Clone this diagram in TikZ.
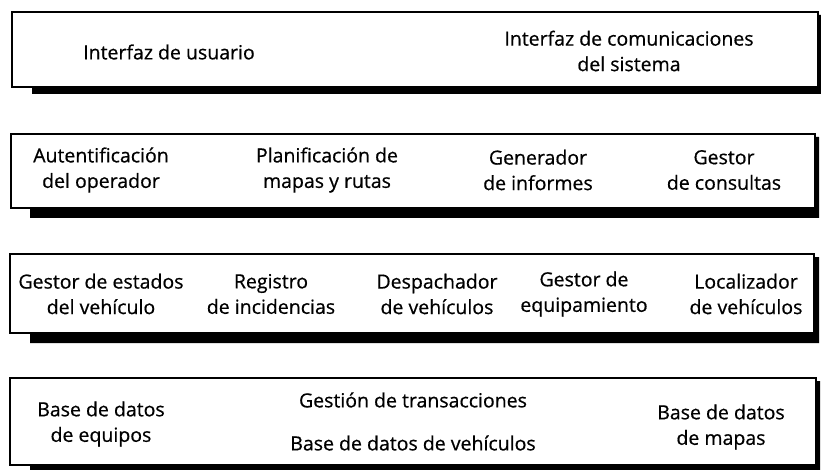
\documentclass[tikz,border=0pt]{standalone}
\usepackage{fontspec}
\setmainfont{Open Sans}[FakeBold=0.6]
\begin{document}
\begin{tikzpicture}[x=1pt,y=-1pt,
  lbl/.style={align=center, inner sep=0pt, font=\fontsize{19.5}{25.5}\selectfont},
  boxline/.style={draw=black, line width=1.4pt, fill=white},
  shad/.style={fill=black}]
\useasboundingbox (0,0) rectangle (821,470);
% Box 1
\fill[shad] (32,86) -- (32,94) -- (821,94) -- (821,15) -- (818,15) -- cycle;
\draw[boxline] (12,12) rectangle (818,87);
% Box 2
\fill[shad] (30,207) -- (30,218) -- (819,218) -- (819,137) -- (815,137) -- cycle;
\draw[boxline] (11,134) rectangle (815,208);
% Box 3
\fill[shad] (30,332) -- (30,343) -- (819,343) -- (819,257) -- (814,257) -- cycle;
\draw[boxline] (10,254) rectangle (814,333);
% Box 4
\fill[shad] (30,464) -- (30,470) -- (820,470) -- (820,381) -- (816,381) -- cycle;
\draw[boxline] (10,378) rectangle (816,465);

% Row 1
\node[lbl] (ui) at (169,52) {Interfaz de usuario};
\node[lbl] (ic) at (629,51) {Interfaz de comunicaciones\\del sistema};
% Row 2
\node[lbl] (aut) at (101,170) {Autentificación\\del operador};
\node[lbl] (plan) at (327,170) {Planificación de\\mapas y rutas};
\node[lbl] (gen) at (538,170) {Generador\\de informes};
\node[lbl] (gc) at (724,170) {Gestor\\de consultas};
% Row 3
\node[lbl] (ge) at (101,294) {Gestor de estados\\del vehículo};
\node[lbl] (ri) at (271,294) {Registro\\de incidencias};
\node[lbl] (dv) at (437,294) {Despachador\\de vehículos};
\node[lbl] (geq) at (584,294) {Gestor de\\equipamiento};
\node[lbl] (lv) at (746,294) {Localizador\\de vehículos};
% Row 4
\node[lbl] (bde) at (101,424) {Base de datos\\de equipos};
\node[lbl] (gt) at (413,400) {Gestión de transacciones};
\node[lbl] (bdv) at (413,443) {Base de datos de vehículos};
\node[lbl] (bdm) at (721,427) {Base de datos\\de mapas};
\end{tikzpicture}
\end{document}
